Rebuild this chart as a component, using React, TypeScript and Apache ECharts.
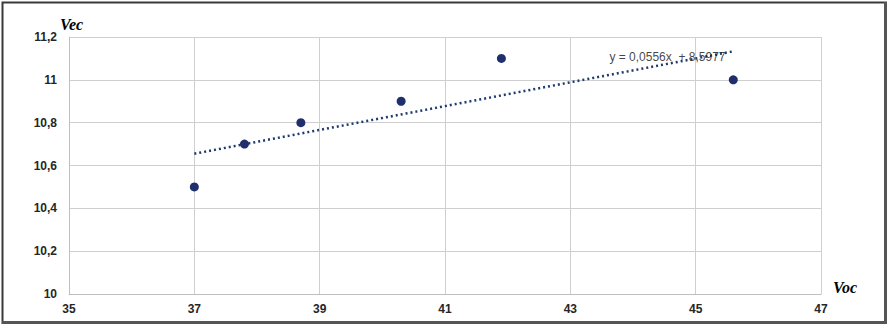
import React, { useEffect, useRef } from "react";
import * as echarts from "echarts";

const vocValues = [37, 37.8, 38.7, 40.3, 41.9, 45.6];
const vecValues = [10.5, 10.7, 10.8, 10.9, 11.1, 11.0];
const trendX = [37, 45.6];
const trendY = [10.655, 11.133];
const trendLabel = "y = 0,0556x  + 8,5977";
const trendLabelAt = [44.55, 11.105];
const yTitle = "Vec";
const xTitle = "Voc";

const fmt = (v: number) => String(Math.round(v * 10) / 10).replace(".", ",");

export default function App() {
  const ref = useRef<HTMLDivElement>(null);
  useEffect(() => {
    document.body.style.margin = "0";
    const chart = echarts.init(ref.current!, null, { renderer: "svg" });
    const labelFont = {
      color: "#262626",
      fontSize: 12,
      fontWeight: "bold" as const,
      fontFamily: "'Liberation Sans', Arial, sans-serif",
    };
    const titleFont = "italic bold 16px 'Liberation Serif', 'DejaVu Serif', serif";
    chart.setOption({
      animation: false,
      backgroundColor: "#fff",
      grid: { left: 69, right: 66, top: 37, bottom: 30 },
      xAxis: {
        type: "value",
        min: 35,
        max: 47,
        interval: 2,
        axisLine: { show: true, lineStyle: { color: "#bfbfbf", width: 1 } },
        axisTick: { show: false },
        splitLine: { show: true, lineStyle: { color: "#cfcfcf", width: 1 } },
        axisLabel: { ...labelFont, margin: 9, formatter: fmt },
      },
      yAxis: {
        type: "value",
        min: 10,
        max: 11.2,
        interval: 0.2,
        axisLine: { show: true, lineStyle: { color: "#bfbfbf", width: 1 } },
        axisTick: { show: false },
        splitLine: { show: true, lineStyle: { color: "#cfcfcf", width: 1 } },
        axisLabel: { ...labelFont, margin: 12, formatter: fmt },
      },
      graphic: [
        {
          type: "text",
          left: 60,
          top: 16,
          style: { text: yTitle, fill: "#000", font: titleFont },
        },
        {
          type: "text",
          left: 833,
          top: 279,
          style: { text: xTitle, fill: "#000", font: titleFont },
        },
        {
          type: "rect",
          left: 0,
          top: 0,
          shape: { width: 885, height: 321 },
          style: { fill: "none", stroke: "#3a3a3a", lineWidth: 2 },
          z: 100,
        },
        {
          type: "rect",
          left: 2,
          top: 321,
          shape: { width: 885, height: 3 },
          style: { fill: "#555" },
          z: 100,
        },
        {
          type: "rect",
          left: 884,
          top: 2,
          shape: { width: 3, height: 322 },
          style: { fill: "#555" },
          z: 100,
        },
      ],
      series: [
        {
          type: "line",
          data: trendX.map((x, i) => [x, trendY[i]]),
          symbol: "none",
          lineStyle: { color: "#1f3a6e", width: 2.5, type: [2, 3] },
          z: 3,
        },
        {
          type: "scatter",
          data: vocValues.map((x, i) => [x, vecValues[i]]),
          symbolSize: 9,
          itemStyle: { color: "#1f2f6d", opacity: 1 },
          z: 4,
        },
        {
          type: "scatter",
          data: [trendLabelAt],
          symbolSize: 0,
          silent: true,
          label: {
            show: true,
            position: "inside",
            formatter: trendLabel,
            color: "#111",
            fontSize: 12,
            fontFamily: "'Liberation Sans', Arial, sans-serif",
          },
          z: 5,
        },
      ],
    });
    return () => chart.dispose();
  }, []);
  return <div ref={ref} style={{ width: 887, height: 324 }} />;
}
